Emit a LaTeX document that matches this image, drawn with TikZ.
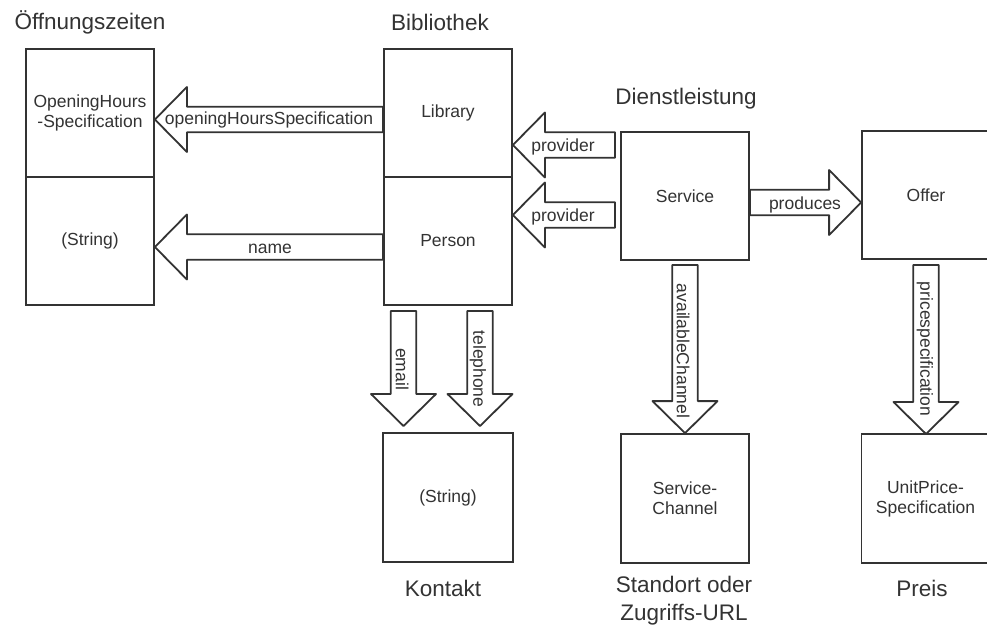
\documentclass[tikz,border=0pt]{standalone}
\usepackage{fontspec}
\setmainfont{Liberation Sans}
\usetikzlibrary{calc}
\definecolor{ink}{HTML}{333333}
\newcommand\bxfont{\fontsize{17.5}{20}\selectfont}
\newcommand\ttlfont{\fontsize{22.5}{28}\selectfont}
% fat block arrow from #1 (back end) to #2 (tip), helper name #3
\newcommand\fatarrow[3]{%
  \coordinate (#3h) at ($(#2)!32pt!(#1)$);
  \draw[arrowshape] ($(#1)!12.75pt!90:(#2)$) -- ($(#3h)!12.75pt!90:(#2)$)
    -- ($(#3h)!32.5pt!90:(#2)$) -- (#2) -- ($(#3h)!32.5pt!-90:(#2)$)
    -- ($(#3h)!12.75pt!-90:(#2)$) -- ($(#1)!12.75pt!-90:(#2)$) -- cycle;}
\begin{document}
\begin{tikzpicture}[x=1pt,y=-1pt,
  box/.style={draw=ink,line width=1.8pt,minimum width=128pt,minimum height=128pt,
    inner sep=0pt,align=center,font=\bxfont,text=ink},
  ttl/.style={font=\ttlfont,text=ink,inner sep=0pt,align=center},
  lbl/.style={font=\bxfont,text=ink,inner sep=0pt},
  arrowshape/.style={draw=ink,line width=1.8pt,fill=white,line join=round}]
\useasboundingbox (0,0) rectangle (987,631);
\fill[white] (0,0) rectangle (987,631);

% boxes
\node[box] (ohs) at (90,113) {OpeningHours\\-Specification};
\node[box] (str1) at (90,241) {(String)};
\node[box] (lib) at (448,113) {Library};
\node[box] (per) at (448,241) {Person};
\node[box] (svc) at (685,196) {Service};
\node[box] (off) at (926,195) {Offer};
\node[box,minimum width=130pt,minimum height=129pt] (kon) at (448,497.5) {(String)};
\node[box,minimum height=129pt] (chn) at (685,498.5) {Service-\\Channel};
\node[box,minimum height=129pt] (upr) at (925.5,498.5) {UnitPrice-\\Specification};

% titles
\node[ttl] (t1) at (90,22) {Öffnungszeiten};
\node[ttl] (t2) at (440,22) {Bibliothek};
\node[ttl] (t3) at (686,99) {Dienstleistung};
\node[ttl] (t4) at (443,588) {Kontakt};
\node[ttl] (t5) at (684,601) {Standort oder\\Zugriffs-URL};
\node[ttl] (t6) at (922,588) {Preis};

% arrows
\coordinate (a1s) at ($(lib.west)+(0,6.5)$);
\coordinate (a1e) at ($(ohs.east)+(0,6.5)$);
\fatarrow{a1s}{a1e}{a1}
\coordinate (a2s) at ($(per.west)+(0,6)$);
\coordinate (a2e) at ($(str1.east)+(0,6)$);
\fatarrow{a2s}{a2e}{a2}
\coordinate (a3s) at (615,145);
\coordinate (a3e) at (lib.east |- a3s);
\fatarrow{a3s}{a3e}{a3}
\coordinate (a4s) at (615,215);
\coordinate (a4e) at (per.east |- a4s);
\fatarrow{a4s}{a4e}{a4}
\coordinate (a5s) at ($(svc.east)+(0,6.5)$);
\coordinate (a5e) at ($(off.west)+(0,7.5)$);
\fatarrow{a5s}{a5e}{a5}
\coordinate (a6s) at (403.5,311);
\coordinate (a6e) at (403.5,426);
\fatarrow{a6s}{a6e}{a6}
\coordinate (a7s) at (480,311);
\coordinate (a7e) at (480,426);
\fatarrow{a7s}{a7e}{a7}
\coordinate (a8s) at (685,265);
\coordinate (a8e) at (chn.north);
\fatarrow{a8s}{a8e}{a8}
\coordinate (a9s) at (926,265);
\coordinate (a9e) at (926,434);
\fatarrow{a9s}{a9e}{a9}

% arrow labels
\node[lbl] (l1) at (269,120) {openingHoursSpecification};
\node[lbl] (l2) at (270,249) {name};
\node[lbl] (l3) at (563,147) {provider};
\node[lbl] (l4) at (563,217) {provider};
\node[lbl] (l5) at (805,205) {produces};
\node[lbl,rotate=-90] (l6) at (402,369) {email};
\node[lbl,rotate=-90] (l7) at (478,369) {telephone};
\node[lbl,rotate=-90] (l8) at (683,351) {availableChannel};
\node[lbl,rotate=-90] (l9) at (925,349) {pricespecification};
\end{tikzpicture}
\end{document}
